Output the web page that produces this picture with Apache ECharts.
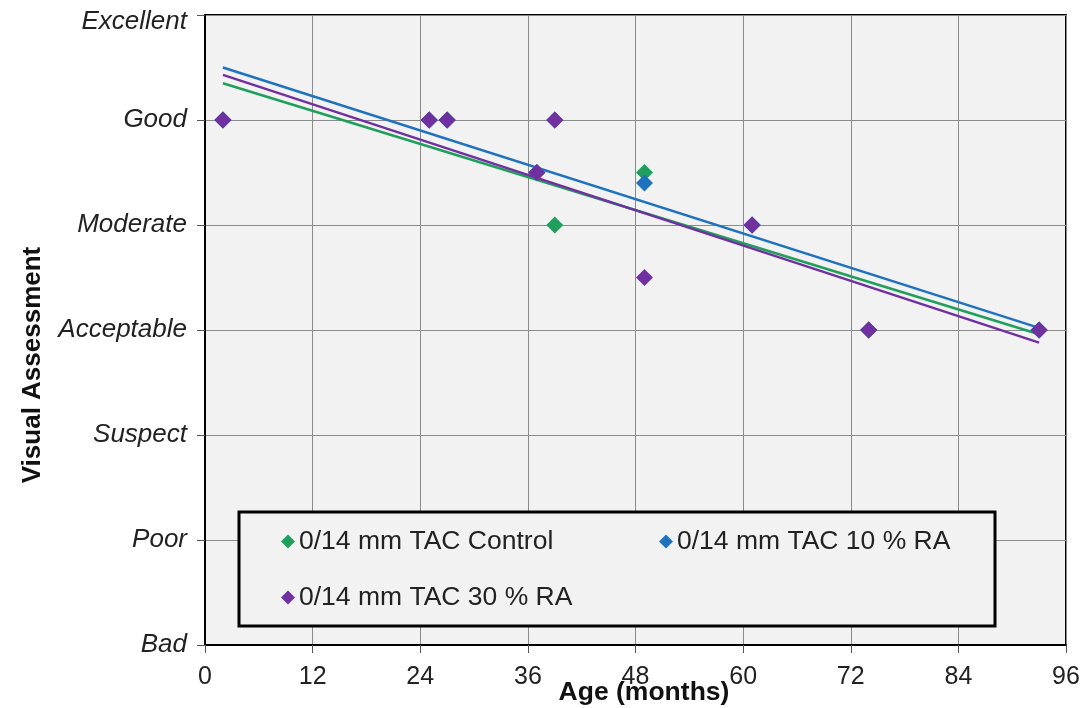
<!DOCTYPE html>
<html>
<head>
<meta charset="utf-8">
<script src="https://cdn.jsdelivr.net/npm/echarts@6/dist/echarts.min.js"></script>
<style>
html,body{margin:0;padding:0;background:#fff;}
#chart{width:1090px;height:708px;}
</style>
</head>
<body>
<div id="chart"></div>
<script>
// ---- data ----
var levelLabels = ['Bad', 'Poor', 'Suspect', 'Acceptable', 'Moderate', 'Good', 'Excellent'];
var xTicks = [0, 12, 24, 36, 48, 60, 72, 84, 96];
var ages = [2, 25, 27, 37, 39, 49, 61, 74, 93];
var controlVals = [5, 5, 5, 4.5, 4, 4.5, 4, 3, 3];
var ra10Vals = [5, 5, 5, 4.5, 5, 4.4, 4, 3, 3];
var ra30Vals = [5, 5, 5, 4.5, 5, 3.5, 4, 3, 3];
// linear trend line end points (age, level)
var controlTrend = [[2, 5.35], [93, 2.96]];
var ra10Trend = [[2, 5.50], [93, 3.02]];
var ra30Trend = [[2, 5.43], [93, 2.88]];
var seriesNames = ['0/14 mm TAC Control', '0/14 mm TAC 10 % RA', '0/14 mm TAC 30 % RA'];

var colors = ['#1f9e5c', '#1f72bd', '#7030a0'];
function pts(xs, ys) { return xs.map(function (x, i) { return [x, ys[i]]; }); }

var chart = echarts.init(document.getElementById('chart'), null, {renderer: 'canvas'});
var FONT = 'Liberation Sans, Arial, sans-serif';

function legendAt(name, left, top) {
  return {
    data: [name], left: left, top: top, orient: 'horizontal',
    icon: 'diamond', itemWidth: 14, itemHeight: 14, itemGap: 0,
    padding: 0, selectedMode: false, z: 10,
    textStyle: {fontFamily: FONT, fontSize: 26.5, color: '#222', padding: [0, 0, 0, -1]}
  };
}

var option = {
  animation: false,
  backgroundColor: '#ffffff',
  grid: {left: 205, right: 24, top: 15, bottom: 63, show: true,
         backgroundColor: '#f2f2f2', borderColor: '#000', borderWidth: 2},
  xAxis: {
    type: 'value', min: 0, max: 96, interval: 12,
    axisLine: {show: true, onZero: false, lineStyle: {color: '#000', width: 2}},
    axisTick: {show: true, length: 8, lineStyle: {color: '#555', width: 1}},
    axisLabel: {margin: 20, fontFamily: FONT, fontSize: 25, color: '#222',
                formatter: function (v) { return xTicks.indexOf(v) >= 0 ? String(v) : ''; }},
    splitLine: {show: true, lineStyle: {color: '#8a8a8a', width: 1}}
  },
  yAxis: {
    type: 'value', min: 0, max: 6, interval: 1,
    axisLine: {show: true, lineStyle: {color: '#000', width: 2}},
    axisTick: {show: true, length: 8, lineStyle: {color: '#555', width: 1}},
    axisLabel: {margin: 18, fontFamily: FONT, fontSize: 26, fontStyle: 'italic', color: '#222',
                formatter: function (v) {
                  var s = levelLabels[Math.round(v)] || '';
                  return Math.round(v) === 6 ? '{top|' + s + '}' : s;
                },
                rich: {top: {fontFamily: FONT, fontSize: 26, fontStyle: 'italic', color: '#222',
                             padding: [14, 0, 0, 0]}}},
    splitLine: {show: true, lineStyle: {color: '#8a8a8a', width: 1}}
  },
  legend: [
    legendAt(seriesNames[0], 281, 528),
    legendAt(seriesNames[1], 659, 528),
    legendAt(seriesNames[2], 281, 584)
  ],
  graphic: {elements: [
    {type: 'rect', z: 5, shape: {x: 239, y: 512, width: 756, height: 114},
     style: {fill: '#f2f2f2', stroke: '#000', lineWidth: 3}},
    {type: 'text', z: 5, x: 33, y: 365, rotation: Math.PI / 2,
     style: {text: 'Visual Assessment', fontFamily: FONT, fontSize: 26, fontWeight: 'bold',
             fill: '#111', textAlign: 'center', textVerticalAlign: 'middle'}},
    {type: 'text', z: 5, x: 644, y: 693,
     style: {text: 'Age (months)', fontFamily: FONT, fontSize: 26.5, fontWeight: 'bold',
             fill: '#111', textAlign: 'center', textVerticalAlign: 'middle'}}
  ]},
  series: [
    {name: 'trend control', type: 'line', data: controlTrend, symbol: 'none', z: 3,
     lineStyle: {color: colors[0], width: 2.5}},
    {name: 'trend 10', type: 'line', data: ra10Trend, symbol: 'none', z: 3,
     lineStyle: {color: colors[1], width: 2.5}},
    {name: 'trend 30', type: 'line', data: ra30Trend, symbol: 'none', z: 3,
     lineStyle: {color: colors[2], width: 2.5}},
    {name: seriesNames[0], type: 'scatter', data: pts(ages, controlVals), symbol: 'diamond',
     symbolSize: 17, z: 4, itemStyle: {color: colors[0], opacity: 1}},
    {name: seriesNames[1], type: 'scatter', data: pts(ages, ra10Vals), symbol: 'diamond',
     symbolSize: 17, z: 4, itemStyle: {color: colors[1], opacity: 1}},
    {name: seriesNames[2], type: 'scatter', data: pts(ages, ra30Vals), symbol: 'diamond',
     symbolSize: 17, z: 4, itemStyle: {color: colors[2], opacity: 1}}
  ]
};
chart.setOption(option);
</script>
</body>
</html>
